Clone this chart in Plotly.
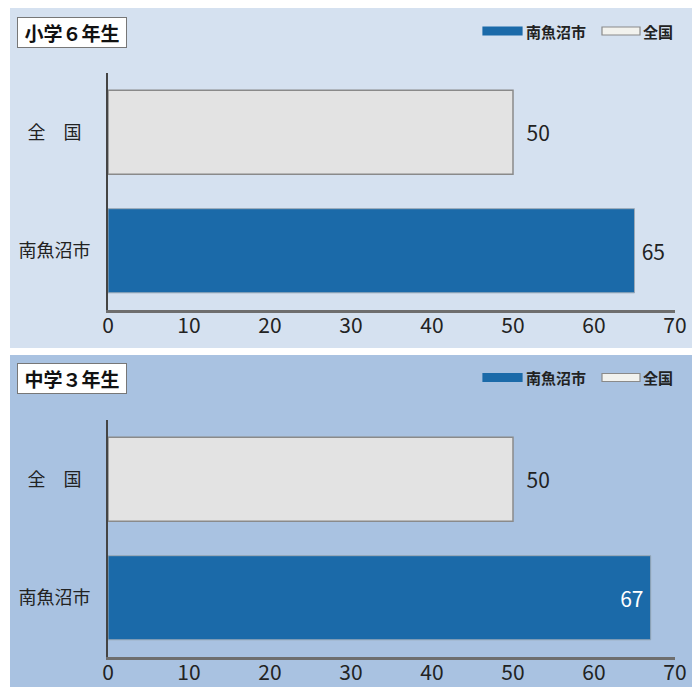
import plotly.graph_objects as go

# ---- data ----
panels = ["小学６年生", "中学３年生"]
categories = ["南魚沼市", "全国"]
category_labels = ["南魚沼市", "全　国\u2002"]
series_names = ["南魚沼市", "全国"]
city_values = [65, 67]
national_values = [50, 50]
city_text_pos = ["outside", "inside"]
x_ticks = [0, 10, 20, 30, 40, 50, 60, 70]

# ---- style ----
FONT = "Noto Sans CJK JP"
W, H = 692, 687
BLUE = "#1b6aa9"
GREY = "#e3e3e3"
GREY_LINE = "#8a8a8a"
PANEL_BG = ["#d5e1f0", "#a9c2e1"]

def px_x(p):
    return p / W

def px_y(p):
    return 1 - p / H

fig = go.Figure()

# panel geometry (pixels)
plot_top = [73, 420]
plot_bot = [310, 657]
panel_top = [8, 355]
panel_bot = [348, 687]
legend_y = [31, 377.5]
title_top = [17, 363]

for i, name in enumerate(panels):
    xa = "x" if i == 0 else "x2"
    ya = "y" if i == 0 else "y2"
    # city bar
    fig.add_trace(go.Bar(
        y=[categories[0]], x=[city_values[i]], orientation="h",
        xaxis=xa, yaxis=ya, name=series_names[0], showlegend=False,
        marker=dict(color=BLUE, line=dict(color="#9aa8b6", width=1)),
        text=[("\u2009" + str(city_values[i])) if city_text_pos[i] == "outside"
              else (str(city_values[i]) + "\u2009")],
        textposition=city_text_pos[i], textangle=0, insidetextanchor="end",
        constraintext="none",
        outsidetextfont=dict(family=FONT, size=21, color="#222"),
        insidetextfont=dict(family=FONT, size=21, color="white"),
        cliponaxis=False, hoverinfo="skip",
    ))
    # national bar
    fig.add_trace(go.Bar(
        y=[categories[1]], x=[national_values[i]], orientation="h",
        xaxis=xa, yaxis=ya, name=series_names[1], showlegend=False,
        marker=dict(color=GREY, line=dict(color=GREY_LINE, width=1.5)),
        text=["\u2002" + str(national_values[i])],
        textposition="outside", textangle=0, constraintext="none",
        outsidetextfont=dict(family=FONT, size=21, color="#222"),
        cliponaxis=False, hoverinfo="skip",
    ))

shapes = []
annotations = []
for i, name in enumerate(panels):
    # panel background
    shapes.append(dict(type="rect", xref="paper", yref="paper", layer="below",
                       x0=px_x(10), x1=1, y0=px_y(panel_bot[i]), y1=px_y(panel_top[i]),
                       fillcolor=PANEL_BG[i], line=dict(width=0)))
    # title box
    annotations.append(dict(text="<b>" + name + "</b>", xref="paper", yref="paper",
                            x=px_x(17), y=px_y(title_top[i]), xanchor="left", yanchor="top",
                            showarrow=False, bgcolor="white", bordercolor="#777",
                            borderwidth=1, borderpad=1, width=106, align="center",
                            font=dict(family=FONT, size=19, color="#111")))
    # legend swatches + labels
    ly = legend_y[i]
    sw = [(483, 522, BLUE, BLUE), (602, 640, "#f2f2ee", GREY_LINE)]
    lx = [524, 641]
    for k in range(2):
        x0, x1, fc, lc = sw[k]
        shapes.append(dict(type="rect", xref="paper", yref="paper",
                           x0=px_x(x0), x1=px_x(x1), y0=px_y(ly + 4), y1=px_y(ly - 4),
                           fillcolor=fc, line=dict(color=lc, width=1.2)))
        annotations.append(dict(text="<b>" + series_names[k] + "</b>", xref="paper", yref="paper",
                                x=px_x(lx[k]), y=px_y(ly), xanchor="left", yanchor="middle",
                                showarrow=False,
                                font=dict(family=FONT, size=15, color="#222")))

axis_x = dict(range=[0, 70], tickvals=x_ticks, ticks="", showgrid=False, zeroline=False,
              showline=True, linecolor="#6e6e6e", linewidth=3, fixedrange=True,
              automargin=False, ticklabelstandoff=-5,
              tickfont=dict(family=FONT, size=21, color="#222"),
              domain=[px_x(108), px_x(675)])
axis_y = dict(type="category", categoryorder="array", categoryarray=categories,
              tickvals=categories, ticktext=category_labels,
              ticks="", showgrid=False, zeroline=False, showline=True,
              linecolor="#444", linewidth=2, fixedrange=True, automargin=False,
              ticklabelstandoff=12,
              tickfont=dict(family=FONT, size=18, color="#222"))

fig.update_layout(
    template="none",
    width=W, height=H, margin=dict(l=0, r=0, t=0, b=0, pad=0, autoexpand=False),
    paper_bgcolor="white", plot_bgcolor="white",
    barmode="overlay", bargap=0.29, showlegend=False,
    font=dict(family=FONT),
    xaxis=dict(axis_x, anchor="y"),
    yaxis=dict(axis_y, anchor="x", domain=[px_y(plot_bot[0]), px_y(plot_top[0])]),
    xaxis2=dict(axis_x, anchor="y2"),
    yaxis2=dict(axis_y, anchor="x2", domain=[px_y(plot_bot[1]), px_y(plot_top[1])]),
    shapes=shapes, annotations=annotations,
)

fig.write_html("out.html")
